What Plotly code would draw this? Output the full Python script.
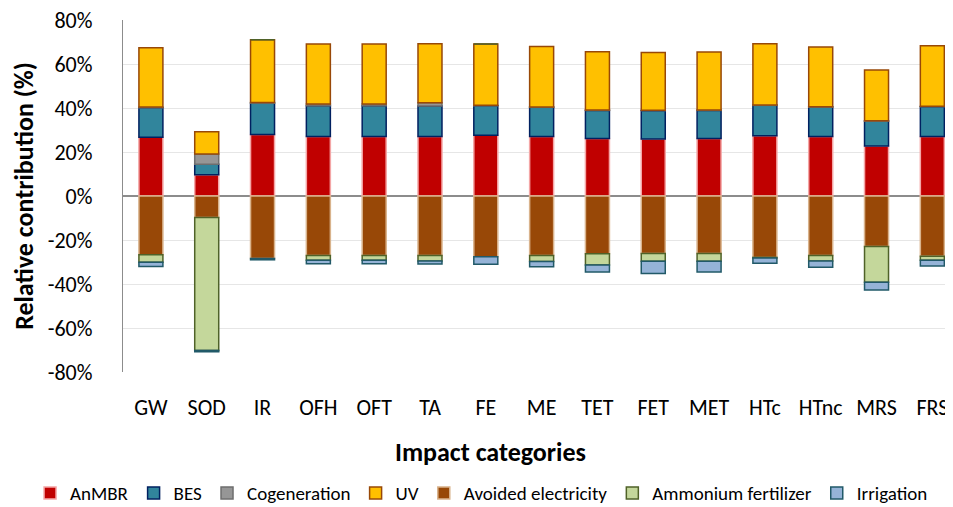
# Relative contribution of each process to the impact categories (stacked bars, Plotly).
import plotly.graph_objects as go

categories = ["GW", "SOD", "IR", "OFH", "OFT", "TA", "FE", "ME",
              "TET", "FET", "MET", "HTc", "HTnc", "MRS", "FRS"]

# positive contributions (%)
anmbr = [26.7, 9.7, 28.0, 27.0, 27.0, 27.0, 27.6, 27.0, 26.1, 25.9, 26.1, 27.4, 27.0, 22.7, 27.0]
bes = [13.4, 4.7, 14.2, 14.0, 14.0, 13.9, 13.4, 13.3, 12.8, 12.9, 12.8, 13.8, 13.4, 11.3, 13.6]
cogeneration = [0.3, 4.7, 0.3, 0.8, 0.8, 1.5, 0.2, 0.2, 0.2, 0.2, 0.2, 0.2, 0.2, 0.2, 0.2]
uv = [27.0, 10.1, 28.5, 27.3, 27.3, 26.8, 27.9, 27.5, 26.5, 26.2, 26.4, 27.8, 27.1, 23.1, 27.5]

# negative contributions (%)
avoided_electricity = [-26.7, -9.8, -28.4, -27.1, -27.1, -27.1, -27.6, -27.1, -26.2, -26.1, -26.1, -27.9, -27.1, -22.9, -27.4]
ammonium_fertilizer = [-3.4, -60.4, 0.0, -2.1, -2.1, -2.4, 0.0, -2.7, -5.2, -3.6, -3.6, -0.3, -2.4, -16.3, -1.8]
irrigation = [-2.0, -0.6, -0.6, -1.6, -1.6, -1.4, -3.4, -2.4, -3.1, -5.5, -4.8, -2.4, -2.9, -3.5, -2.6]

y_ticks = [-80, -60, -40, -20, 0, 20, 40, 60, 80]
y_tick_labels = ["-80%", "-60%", "-40%", "-20%", "0%", "20%", "40%", "60%", "80%"]

series = [
    ("AnMBR", anmbr, "#C00000", "#F4A6A6"),
    ("BES", bes, "#31859C", "#002060"),
    ("Cogeneration", cogeneration, "#969696", "#6E6E6E"),
    ("UV", uv, "#FFC000", "#984807"),
    ("Avoided electricity", avoided_electricity, "#984807", "#D9B38C"),
    ("Ammonium fertilizer", ammonium_fertilizer, "#C4D79B", "#4F6228"),
    ("Irrigation", irrigation, "#95B3D7", "#215968"),
]

FONT = "Carlito, Calibri, Lato, sans-serif"

fig = go.Figure()
for name, values, fill, edge in series:
    fig.add_trace(go.Bar(
        x=categories,
        y=values,
        name=name,
        width=0.43,
        marker=dict(color=fill, line=dict(color=edge, width=1.5)),
    ))

# the page adds an 8px body margin, so the figure is laid out 8px smaller
fig.update_layout(
    barmode="relative",
    width=945,
    height=499,
    paper_bgcolor="white",
    plot_bgcolor="white",
    font=dict(family=FONT, size=22, color="#000000"),
    margin=dict(l=115, r=0, t=12, b=135, autoexpand=False),
    showlegend=True,
    legend=dict(
        orientation="h",
        xref="paper", x=-0.112, xanchor="left",
        yref="paper", y=-0.344, yanchor="middle",
        font=dict(size=19),
        itemwidth=30,
        traceorder="normal",
    ),
    annotations=[
        dict(text="<b>Impact categories</b>", x=0.443, xref="paper", y=-0.227,
             yref="paper", xanchor="center", yanchor="middle", showarrow=False,
             font=dict(size=26)),
    ],
)

fig.update_xaxes(
    type="category",
    range=[-0.5, 14.37],
    showgrid=False,
    showline=False,
    ticks="",
    ticklabelstandoff=20,
    ticklabeloverflow="allow",
    automargin=False,
)
fig.update_yaxes(
    range=[-80, 80],
    tickvals=y_ticks,
    ticktext=y_tick_labels,
    showgrid=True,
    gridcolor="#E6E6E6",
    gridwidth=1,
    zeroline=True,
    zerolinecolor="#8C8C8C",
    zerolinewidth=1.5,
    showline=True,
    linecolor="#8C8C8C",
    linewidth=1.2,
    ticks="",
    ticklabelstandoff=25,
    ticklabeloverflow="allow",
    automargin=False,
    title=dict(text="<b>Relative contribution (%)</b>", font=dict(size=26), standoff=6),
)

fig.write_html("out.html")
